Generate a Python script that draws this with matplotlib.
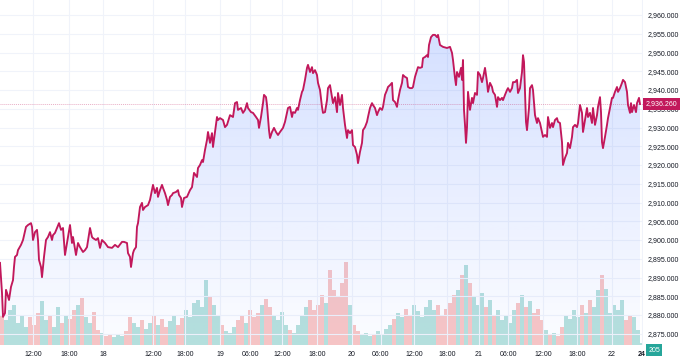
import numpy as np
import matplotlib
matplotlib.use('Agg')
import matplotlib.pyplot as plt
import matplotlib.transforms as mtransforms
from matplotlib.ticker import FuncFormatter

plt.rcParams['font.family'] = ['Liberation Sans', 'DejaVu Sans']

# bar index (time compressed, as on the chart) and last price
bars = [0, 2, 3, 5, 6, 7, 9, 11, 13, 14, 15, 17, 18, 21, 23, 26, 28, 31, 32, 33, 35, 37, 38, 39, 41, 42, 44, 46, 48, 50,
        52, 53, 55, 57, 59, 61, 63, 65, 67, 68, 70, 72, 73, 76, 78, 80, 83, 85, 87, 90, 92, 93, 96, 98, 100, 102,
        105, 108, 112, 115, 118, 122, 124, 127, 128, 130, 131, 133, 134, 136, 137, 138, 140, 142, 143, 145, 148, 150,
        152, 153, 155, 157, 158, 160, 162, 163, 165, 167, 168, 170, 172, 173, 176, 178, 179, 181, 182, 184, 187, 190,
        192, 194, 197, 198, 200, 202, 203, 205, 207, 208, 210, 212, 213, 215, 217, 218,
        220, 223, 225, 227, 230, 233, 235, 237, 238, 241, 243, 245, 247, 248, 251, 253, 256, 258, 259, 261, 263, 264,
        266, 267, 269, 270, 272, 274, 276, 278, 280, 283, 285, 287, 288, 290, 292, 293, 295, 297, 298, 300, 302, 303,
        305, 307, 308, 310, 312, 313, 315, 317, 318, 320, 322, 323, 325, 327, 328, 330, 332, 333,
        335, 337, 338, 340, 342, 343, 345, 347, 348, 350, 352, 353, 355, 357, 358, 360, 362, 363, 365, 367, 368, 370,
        372, 373, 375, 377, 378, 380, 382, 383, 385, 387, 388, 390, 392, 393, 395, 397, 398, 400, 402, 403, 405, 407,
        408, 410, 412, 413, 415, 417, 418, 420, 422, 423, 425, 427, 428, 429, 431, 433, 435, 437, 438,
        440, 443, 447, 450, 452, 453, 455, 456, 457, 459, 461, 462, 463, 464, 465, 466, 467, 468, 470, 472, 473, 475,
        477, 478, 480, 482, 483, 485, 487, 488, 490, 492, 493, 495, 497, 498, 500, 502, 503, 505, 507, 508, 510, 512,
        513, 515, 517, 518, 520, 522, 523, 524, 526, 527, 529, 530, 532, 533, 535, 537, 538, 540, 542, 543,
        545, 547, 548, 550, 552, 553, 555, 557, 558, 560, 562, 563, 565, 567, 568, 570, 572, 573, 575, 577, 578, 580,
        582, 583, 585, 587, 588, 590, 592, 593, 595, 597, 598, 600, 601, 602, 603, 605, 607, 608, 610, 612, 613, 615,
        617, 618, 620, 622, 623, 625, 627, 628, 630, 631, 632, 634, 636, 637, 639, 640]

prices = [2893.9, 2885.9, 2879.5, 2880.5, 2886.7, 2885.9, 2884.0, 2887.5, 2889.3, 2892.8, 2895.5, 2896.0, 2897.3,
          2898.7, 2900.0, 2903.5, 2904.0, 2904.5, 2903.5, 2900.0, 2902.1, 2902.7, 2900.0, 2894.7, 2892.8, 2890.1,
          2895.5, 2900.0, 2900.8, 2902.1, 2900.0, 2901.3, 2901.9, 2903.2, 2904.5, 2902.7, 2903.2, 2896.0, 2899.2,
          2900.8, 2904.0, 2899.2, 2900.8, 2896.0, 2899.2, 2898.1, 2896.8, 2897.3, 2898.1, 2903.2, 2900.8, 2900.5,
          2900.0, 2900.5, 2897.9, 2900.0,
          2899.2, 2898.1, 2897.9, 2898.7, 2898.1, 2899.5, 2899.5, 2899.2, 2896.5, 2895.5, 2892.8, 2896.5, 2897.3,
          2898.1, 2903.5, 2904.5, 2908.8, 2909.9, 2908.0, 2908.8, 2909.3, 2910.7, 2913.3, 2914.7, 2912.5, 2913.9,
          2911.5, 2913.3, 2914.7, 2913.9, 2912.5, 2910.7, 2909.3, 2911.5, 2912.0, 2912.5, 2912.8, 2913.3, 2912.0,
          2911.2, 2908.8, 2911.2, 2911.5, 2913.3, 2914.1, 2917.9, 2916.8, 2919.2, 2920.0, 2921.3, 2920.8, 2924.0,
          2926.7, 2928.8, 2925.9, 2928.5, 2924.8, 2928.8, 2932.8, 2932.0,
          2932.5, 2932.0, 2930.1, 2930.7, 2933.3, 2932.8, 2936.5, 2936.8, 2934.7, 2935.2, 2933.9, 2934.7, 2936.5,
          2935.2, 2934.1, 2933.9, 2932.8, 2932.0, 2929.9, 2932.8, 2936.5, 2938.7, 2938.1, 2936.0, 2929.3, 2927.2,
          2928.8, 2929.9, 2928.8, 2928.0, 2928.8, 2929.9, 2931.5, 2933.9, 2935.2, 2935.5, 2932.8, 2934.1, 2933.9,
          2935.2, 2934.7, 2937.3, 2939.5, 2940.0, 2942.7, 2945.9, 2946.7, 2944.8, 2946.1, 2944.5, 2945.3, 2944.0,
          2941.9, 2940.0, 2935.5, 2933.9, 2934.1, 2937.3, 2940.5, 2941.3, 2938.1, 2936.5,
          2938.1, 2934.1, 2939.2, 2936.0, 2938.7, 2935.2, 2930.7, 2927.2, 2929.3, 2928.5, 2929.3, 2925.3, 2924.8,
          2922.7, 2920.5, 2923.5, 2925.9, 2929.3, 2930.1, 2931.5, 2932.8, 2935.2, 2936.5, 2936.0, 2935.2, 2933.3,
          2934.1, 2935.2, 2934.7, 2935.5, 2938.7, 2940.0, 2940.8, 2941.3, 2941.9, 2937.3, 2936.8, 2935.5, 2937.3,
          2940.0, 2941.9, 2944.0, 2943.5, 2943.2, 2940.8, 2940.5, 2940.5, 2940.8, 2943.5, 2945.3, 2946.1, 2945.9,
          2946.1, 2948.5, 2948.8, 2949.3, 2948.8, 2952.0, 2954.1, 2954.7, 2954.7, 2954.1, 2954.7,
          2952.0, 2951.5, 2951.2, 2951.5, 2949.9, 2948.0, 2943.2, 2941.3, 2944.8, 2943.5, 2945.9, 2942.7, 2948.0,
          2934.7, 2930.7, 2925.9, 2930.1, 2939.5, 2934.7, 2937.9, 2936.5, 2939.2, 2938.7, 2944.8, 2944.0, 2942.1,
          2943.2, 2945.9, 2942.1, 2939.5, 2941.9, 2940.8, 2939.5, 2938.7, 2935.5, 2938.1, 2937.3, 2937.9, 2937.3,
          2938.7, 2940.0, 2940.5, 2939.5, 2940.5, 2942.1, 2942.1, 2942.7, 2939.2, 2940.5, 2944.8, 2949.3, 2947.5,
          2931.5, 2929.3, 2935.2, 2940.5, 2941.3, 2940.0, 2933.3, 2931.2, 2932.5, 2931.2, 2928.8, 2927.5,
          2928.0, 2927.5, 2932.8, 2929.9, 2931.2, 2930.1, 2932.0, 2932.5, 2931.5, 2931.2, 2926.1, 2920.0, 2921.9,
          2923.2, 2925.9, 2924.5, 2927.5, 2930.1, 2930.7, 2930.1, 2931.2, 2936.0, 2933.9, 2928.8, 2932.0, 2935.2,
          2932.8, 2933.9, 2931.2, 2935.2, 2930.7, 2933.3, 2935.5, 2938.1, 2934.1, 2926.1, 2924.5, 2927.5, 2930.7,
          2932.5, 2935.2, 2937.9, 2937.9, 2939.5, 2940.8, 2939.5, 2940.5, 2941.9, 2942.7, 2942.1, 2939.5, 2936.0,
          2933.9, 2936.5, 2934.1, 2936.0, 2934.1, 2936.5, 2937.9, 2936.26]

# volume, one value per 4 bars
volume = [3000, 2500, 3500, 4000, 2200, 3000, 1800, 2800, 2000, 3200, 4400, 2500, 3000, 1800, 3800, 2200,
          3000, 2600, 3500, 4000, 4700, 2800, 2200, 3300, 1500, 1200, 900, 1000, 800, 1100, 900, 1400,
          2800, 2200, 1800, 2500, 1600, 2200, 3000, 2000, 2600, 1800, 2400, 3000, 2000, 2700, 3500, 2800,
          4200, 4500, 3800, 6500, 4800, 4000, 3000, 2000, 1400, 1200, 1800, 2500, 3000, 2200, 3500, 2800,
          3200, 4000, 4600, 3800, 3000, 2500, 3300, 2000, 1500, 1200, 2000, 3000, 3800, 4500, 3500, 4000,
          5000, 4200, 7500, 5500, 4800, 6200, 8300, 4000, 2000, 1400, 1000, 1200, 900, 1100, 1400, 1000,
          1600, 2000, 2600, 3200, 2800, 3600, 3000, 4000, 3400, 2800, 3800, 4500, 3500, 4000, 3000, 3600,
          4200, 5000, 5500, 7000, 8000, 6200, 4800, 4000, 5200, 3800, 4500, 3000, 3500, 2500, 3000, 2200,
          3500, 4200, 5000, 3800, 4400, 3200, 3600, 2500, 1500, 1000, 1200, 900, 1800, 3000, 2600, 3500,
          2800, 4000, 3200, 4500, 3800, 5500, 7000, 5600, 3200, 4000, 3500, 4500, 2500, 3000, 2800, 1500]
last_volume = 205
last_price = 2936.26

day_ticks = [-3, 33, 69, 103, 153, 185, 220, 250, 282, 317, 352, 381, 414, 447, 479, 508, 543, 577, 612, 642]
day_labels = ['17', '12:00', '18:00', '18', '12:00', '18:00', '19', '06:00', '12:00', '18:00',
              '20', '06:00', '12:00', '18:00', '21', '06:00', '12:00', '18:00', '22', '24']

line_col = '#c2185b'
up_col = '#26a69a'
down_col = '#ef5350'
txt_col = '#131722'
grid_col = '#f0f3fa'

fig = plt.figure(figsize=(6.8, 3.6), dpi=100)
fig.patch.set_facecolor('white')
pos = [0, 15 / 360, 643 / 680, 345 / 360]
x0, x1 = 0, 643
y0, y1 = 2872.0, 2964.0

# volume pane behind the price
axv = fig.add_axes(pos)
axv.set_xlim(x0, x1)
axv.set_ylim(0, 34500)
axv.axis('off')
vol_x = np.arange(2, 642, 4)
p_prev = np.interp(vol_x - 2, bars, prices)
p_next = np.interp(vol_x + 2, bars, prices)
cols = [up_col if b >= a else down_col for a, b in zip(p_prev, p_next)]
axv.bar(vol_x, volume, width=3.5, color=cols, alpha=0.33, linewidth=0)
axv.bar([641], [last_volume], width=2, color=up_col, alpha=0.33, linewidth=0)

ax = fig.add_axes(pos)
ax.set_facecolor('none')
ax.set_xlim(x0, x1)
ax.set_ylim(y0, y1)
for s in ax.spines.values():
    s.set_visible(False)

ax.set_yticks(np.arange(2875, 2961, 5))
ax.yaxis.set_major_formatter(FuncFormatter(lambda v, p: '{:,.3f}'.format(v)))
ax.yaxis.tick_right()
ax.set_xticks(day_ticks)
ax.set_xticklabels(day_labels)
ax.tick_params(length=0, labelsize=5, colors=txt_col)
ax.tick_params(axis='y', pad=3)
ax.tick_params(axis='x', pad=4)
ax.get_xticklabels()[-1].set_fontweight('bold')
ax.grid(color=grid_col, lw=0.8)
ax.set_axisbelow(True)

# gradient area under the line
poly = ax.fill_between(bars, prices, y0, facecolor='none', edgecolor='none')
grad = np.zeros((256, 1, 4))
grad[:, 0, 0] = 41 / 255
grad[:, 0, 1] = 98 / 255
grad[:, 0, 2] = 1.0
grad[:, 0, 3] = np.linspace(0.2, 0.015, 256)
im = ax.imshow(grad, extent=[x0, x1, y0, 2956], aspect='auto', origin='upper', zorder=1)
im.set_clip_path(poly.get_paths()[0], transform=ax.transData)
ax.set_xlim(x0, x1)
ax.set_ylim(y0, y1)

ax.plot(bars, prices, color=line_col, lw=1.35, zorder=3, solid_joinstyle='round')
ax.axhline(last_price, color=line_col, alpha=0.35, lw=0.7, ls=(0, (1, 1)), zorder=2)

trans = mtransforms.blended_transform_factory(ax.transAxes, ax.transData)
ax.text(1.004, last_price, '{:,.3f}'.format(last_price), transform=trans, ha='left', va='center',
        fontsize=5, color='white', clip_on=False, zorder=5,
        bbox=dict(boxstyle='square,pad=0.35', fc=line_col, ec='none'))
transv = mtransforms.blended_transform_factory(axv.transAxes, axv.transData)
ax.text(1.008, -500, str(last_volume), transform=transv, ha='left', va='center',
        fontsize=5, color='white', clip_on=False, zorder=5,
        bbox=dict(boxstyle='square,pad=0.35', fc=up_col, ec='none'))

fig.savefig('out.png', dpi=100, facecolor='white')
